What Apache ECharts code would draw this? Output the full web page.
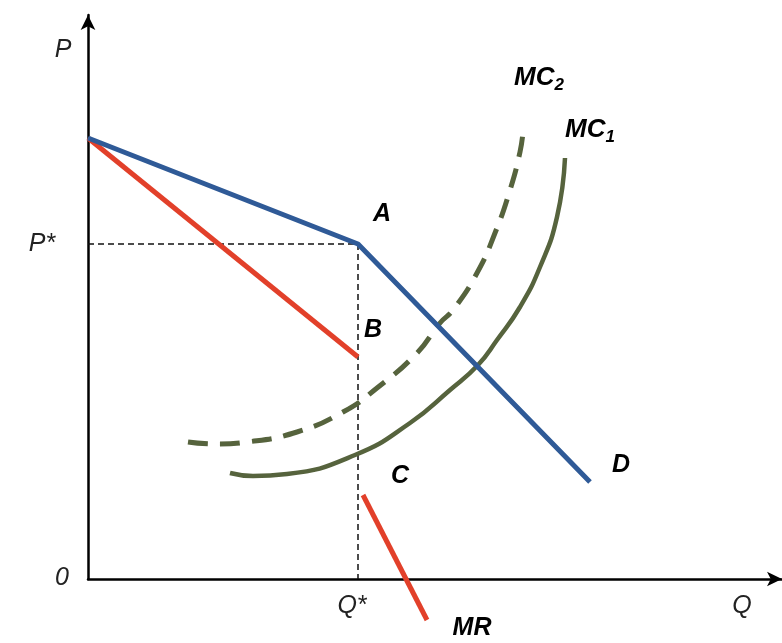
<!DOCTYPE html>
<html>
<head>
<meta charset="utf-8">
<script src="https://cdn.jsdelivr.net/npm/echarts@6/dist/echarts.min.js"></script>
<style>
  html, body { margin: 0; padding: 0; background: #fff; }
  #chart { width: 782px; height: 643px; }
</style>
</head>
<body>
<div id="chart"></div>
<script>
// axis extents (data units)
const X_MAX = 694;
const Y_MAX = 564;

// kinked demand curve D: start, kink A, end
const demand = [[0, 441], [270, 335], [502, 97]];
// marginal revenue, upper and lower pieces (gap between B and C)
const mrUpper = [[0, 441], [270, 222]];
const mrLower = [[275, 84], [339, -41]];
// marginal cost curves
const mc1 = [
  [142, 106], [165, 103], [199, 105], [267, 124], [322, 156], [362, 189],
  [390, 214], [409, 239], [432, 272], [452, 312], [469, 362], [477, 421]
];
const mc2 = [
  [100, 137], [127, 135], [159, 137], [209, 147], [255, 167], [289, 191],
  [329, 226], [352, 256], [365, 269], [389, 306], [407, 346], [422, 389],
  [432, 427], [435, 447]
];
// P* and Q* guide lines
const guideH = [[0, 335], [270, 335]];
const guideV = [[270, 335], [270, 0]];

// text labels: [x, y, text, style]
const labels = [
  [-25, 529, "P", "axis"],
  [-46, 335, "P*", "axis"],
  [-26, 1, "0", "axis"],
  [264, -27, "Q*", "axis"],
  [654, -27, "Q", "axis"],
  [384, -49, "MR", "curve"],
  [533, 114, "D", "curve"],
  [312, 103, "C", "curve"],
  [285, 249, "B", "curve"],
  [294, 365, "A", "curve"],
  [451, 501, "{m|MC}{s|2}", "curve"],
  [502, 449, "{m|MC}{s|1}", "curve"]
];

const BLUE = "#2f5a97";
const RED = "#e2402a";
const OLIVE = "#56633d";
const FONT = "Liberation Sans, Arial, sans-serif";

const chart = echarts.init(document.getElementById("chart"));

function lineSeries(data, color, width, type) {
  return {
    type: "line",
    data,
    clip: false,
    silent: true,
    showSymbol: false,
    symbol: "none",
    lineStyle: { color, width, type: type || "solid", cap: "butt", join: "round" }
  };
}

const labelSeries = {
  type: "scatter",
  clip: false,
  silent: true,
  symbolSize: 0,
  itemStyle: { opacity: 1 },
  data: labels.map(l => ({
    value: [l[0], l[1]],
    label: {
      show: true,
      position: "inside",
      formatter: l[2],
      color: l[3] === "curve" ? "#000" : "#222",
      opacity: 1,
      fontFamily: FONT,
      fontStyle: "italic",
      fontWeight: l[3] === "curve" ? "bold" : "normal",
      fontSize: 25,
      rich: {
        m: { fontFamily: FONT, fontStyle: "italic", fontWeight: "bold", fontSize: 26, color: "#000" },
        s: { fontFamily: FONT, fontStyle: "italic", fontWeight: "bold", fontSize: 17, color: "#000", padding: [14, 0, 0, 0] }
      }
    }
  }))
};

const mc2Series = lineSeries(mc2, OLIVE, 5, [20, 12]);
mc2Series.smooth = 0.5;
const mc1Series = lineSeries(mc1, OLIVE, 4.5);
mc1Series.smooth = 0.5;

chart.setOption({
  animation: false,
  grid: { left: 88, right: 0, top: 15, bottom: 64 },
  xAxis: {
    type: "value", min: 0, max: X_MAX,
    axisLine: { show: true, symbol: ["none", "arrow"], symbolSize: [11, 15], lineStyle: { color: "#000", width: 2.5 } },
    axisTick: { show: false }, axisLabel: { show: false }, splitLine: { show: false }
  },
  yAxis: {
    type: "value", min: 0, max: Y_MAX,
    axisLine: { show: true, symbol: ["none", "arrow"], symbolSize: [11, 15], lineStyle: { color: "#000", width: 2.5 } },
    axisTick: { show: false }, axisLabel: { show: false }, splitLine: { show: false }
  },
  series: [
    lineSeries(guideH, "#111", 1.5, [6, 4]),
    lineSeries(guideV, "#111", 1.5, [6, 4]),
    mc2Series,
    mc1Series,
    lineSeries(mrUpper, RED, 5),
    lineSeries(mrLower, RED, 5),
    lineSeries(demand, BLUE, 5),
    labelSeries
  ]
});
</script>
</body>
</html>
